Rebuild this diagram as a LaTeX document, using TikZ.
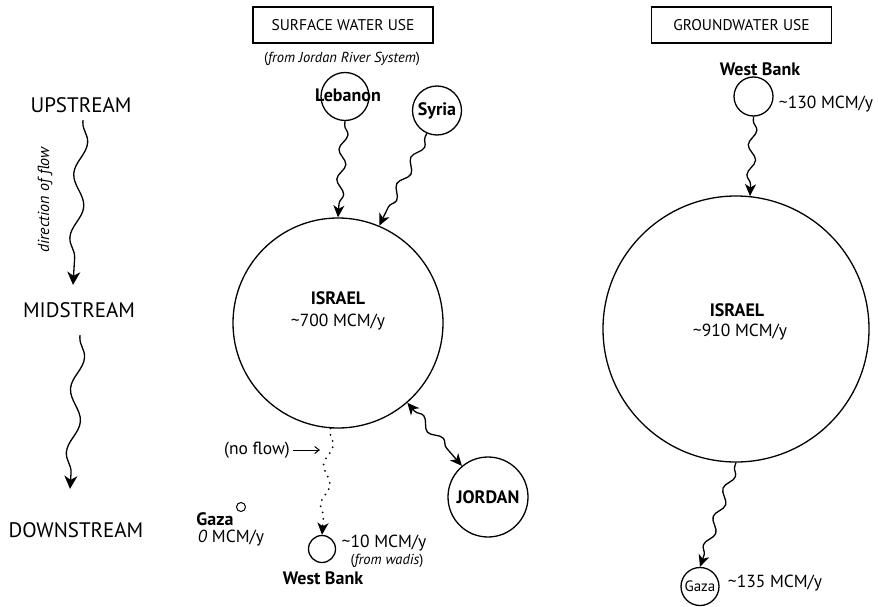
\documentclass[tikz,border=0pt]{standalone}
\usepackage{fontspec}
\setmainfont{PT Sans}
\usetikzlibrary{arrows.meta,decorations.pathmorphing}

\tikzset{
  site/.style={draw, circle, line width=1.3pt, inner sep=0pt},
  lbl/.style={font=\fontsize{17.5}{20}\selectfont},
  lblb/.style={font=\fontsize{18}{20}\selectfont\bfseries},
  note/.style={font=\fontsize{14.5}{16}\selectfont},
  title/.style={draw, line width=1.3pt, minimum width=180pt, minimum height=36pt,
    inner sep=0pt, font=\fontsize{15.5}{18}\selectfont},
  stage/.style={font=\fontsize{21}{24}\selectfont},
  flow/.style={line width=1.3pt, -{Stealth[length=12pt, width=11pt, inset=3.5pt]},
    decorate, decoration={snake, amplitude=4pt, segment length=30pt,
      pre length=4pt, post length=11pt}},
  bothflow/.style={line width=1.3pt,
    {Stealth[length=12pt, width=11pt, inset=3.5pt]}-{Stealth[length=12pt, width=11pt, inset=3.5pt]},
    decorate, decoration={snake, amplitude=4pt, segment length=30pt,
      pre length=11pt, post length=11pt}},
  dotflow/.style={line width=2pt, line cap=round, dash pattern=on 0pt off 6.5pt,
    -{Stealth[length=12pt, width=11pt, inset=3.5pt]},
    decorate, decoration={snake, amplitude=4pt, segment length=40pt,
      pre length=4pt, post length=11pt}},
  stageflow/.style={line width=1.3pt, -{Stealth[length=13pt, width=13pt, inset=4pt]},
    decorate, decoration={snake, amplitude=6pt, segment length=64pt,
      pre length=2pt, post length=13pt}},
  pointer/.style={line width=1pt, -{Straight Barb[length=4.5pt, width=7pt]}}
}

\begin{document}
\begin{tikzpicture}[x=1pt, y=-1pt]
  \useasboundingbox (0,0) rectangle (878,607);

  % upstream / midstream / downstream scale
  \node[stage] (up)   at (81,105) {UPSTREAM};
  \node[stage] (mid)  at (79,310) {MIDSTREAM};
  \node[stage] (down) at (76,530) {DOWNSTREAM};
  \node[rotate=90, font=\fontsize{16}{18}\selectfont\itshape] (dir) at (45,200) {direction of flow};
  \draw[stageflow] ([xshift=2pt, yshift=-4pt]up.south) -- ([xshift=-6pt, yshift=14pt]mid.north);
  \draw[stageflow] ([xshift=1pt, yshift=-14pt]mid.south) -- ([xshift=-6pt, yshift=30pt]down.north);

  % surface water
  \node[title] (swtitle) at (343,25) {SURFACE WATER USE};
  \node[note] (jrs) at (342,59) {(\textit{from Jordan River System})};

  \node[site, minimum size=48pt] (leb) at (345,96.5) {};
  \node[lblb] (leblbl) at (348,95) {Lebanon};
  \node[site, minimum size=49pt, lblb] (syr) at (437,110.5) {Syria};

  \node[site, minimum size=210pt] (isr) at (338,323) {};
  \node[lblb] (isrname) at (338,298) {ISRAEL};
  \node[lbl] (isrvol) at (338,322) {\textasciitilde700 MCM/y};

  \node[site, minimum size=80pt, lblb] (jor) at (488,497) {JORDAN};

  \node[site, minimum size=27pt] (wbs) at (322,549) {};
  \node[lblb] (wbsname) at (323,578) {West Bank};
  \node[lbl] (wbsvol) at (384,543) {\textasciitilde10 MCM/y};
  \node[note] (wadis) at (387,561) {(\textit{from wadis})};

  \node[site, minimum size=9pt, line width=1pt] (gzs) at (241,507) {};
  \node[lblb, inner sep=0pt] (gzsname) at (215,519) {Gaza};
  \node[lbl, inner sep=0pt] (gzsvol) at (231,538) {\textit{0} MCM/y};

  \node[lbl] (nf) at (257,450) {(no flow)};
  \coordinate (nfend) at (320,450);

  \draw[flow] (leb.south) -- (isr.north);
  \draw[flow] (syr.-114) to[out=-115, in=65] (isr.67);
  \draw[bothflow] (isr.-49) -- (jor.130);
  \draw[dotflow] (isr.-94) -- (wbs.north);
  \draw[pointer] (nf.east) -- (nfend);

  % groundwater
  \node[title] (gwtitle) at (741.5,25) {GROUNDWATER USE};

  \node[site, minimum size=39pt] (wbg) at (753.5,96.5) {};
  \node[lblb] (wbgname) at (760,69) {West Bank};
  \node[lbl] (wbgvol) at (826,104) {\textasciitilde130 MCM/y};

  \node[site, minimum size=266pt] (isg) at (736,329) {};
  \node[lblb] (isgname) at (737,310) {ISRAEL};
  \node[lbl] (isgvol) at (740,332) {\textasciitilde910 MCM/y};

  \node[site, minimum size=38pt, font=\fontsize{15}{17}\selectfont] (gzg) at (700,586.5) {Gaza};
  \node[lbl] (gzgvol) at (775,583) {\textasciitilde135 MCM/y};

  \draw[flow] (wbg.south) -- (isg.84);
  \draw[flow] (isg.-90) -- (gzg.north);
\end{tikzpicture}
\end{document}
